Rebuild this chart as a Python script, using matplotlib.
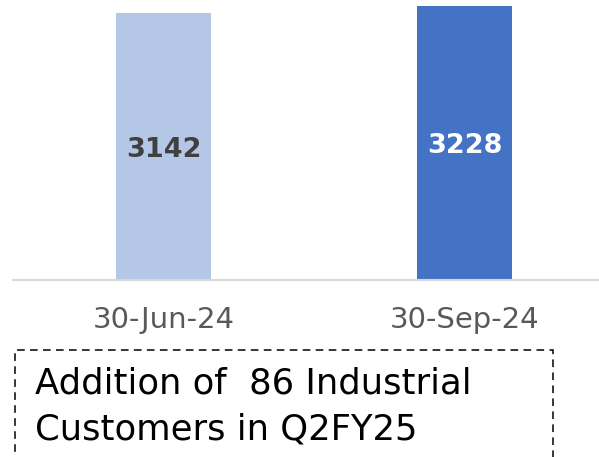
import matplotlib.pyplot as plt
from matplotlib.patches import Rectangle

# Industrial customer count by quarter end
dates = ["30-Jun-24", "30-Sep-24"]
customers = [3142, 3228]
bar_colors = ["#B4C7E7", "#4472C4"]
label_colors = ["#404040", "#FFFFFF"]
note_lines = ["Addition of  86 Industrial", "Customers in Q2FY25"]

plt.rcParams["font.family"] = ["DejaVu Sans"]

fig = plt.figure(figsize=(5.99, 4.57), dpi=100)
W, H = 599, 457
ax = fig.add_axes([13 / W, (H - 280) / H, (W - 13) / W, 280 / H])

x = list(range(len(dates)))
bars = ax.bar(x, customers, width=0.316, color=bar_colors, zorder=2)
for b, v, c in zip(bars, customers, label_colors):
    ax.text(b.get_x() + b.get_width() / 2, v / 2, str(v), ha="center", va="center_baseline",
            fontsize=19.5, fontweight="bold", color=c)

ax.set_xlim(-0.5, 1.447)
ax.set_ylim(0, 3300)
ax.set_xticks(x)
ax.set_xticklabels(dates, fontsize=21, color="#595959")
ax.tick_params(axis="x", length=0, pad=19)
ax.set_yticks([])
for s in ["top", "left", "right"]:
    ax.spines[s].set_visible(False)
ax.spines["bottom"].set_color("#D9D9D9")
ax.spines["bottom"].set_linewidth(1.5)

# dashed note box, open at the bottom edge of the figure
box = Rectangle((15 / W, -0.05), (553 - 15) / W, (H - 350) / H + 0.05,
                transform=fig.transFigure, fill=False, edgecolor="#000000",
                linestyle=(0, (5, 3.5)), linewidth=1.1, clip_on=False)
fig.add_artist(box)
fig.text(35 / W, (H - 393) / H, note_lines[0], fontsize=25.5, va="baseline", ha="left")
fig.text(35 / W, (H - 439) / H, note_lines[1], fontsize=25.5, va="baseline", ha="left")

fig.savefig("out.png", dpi=100)
